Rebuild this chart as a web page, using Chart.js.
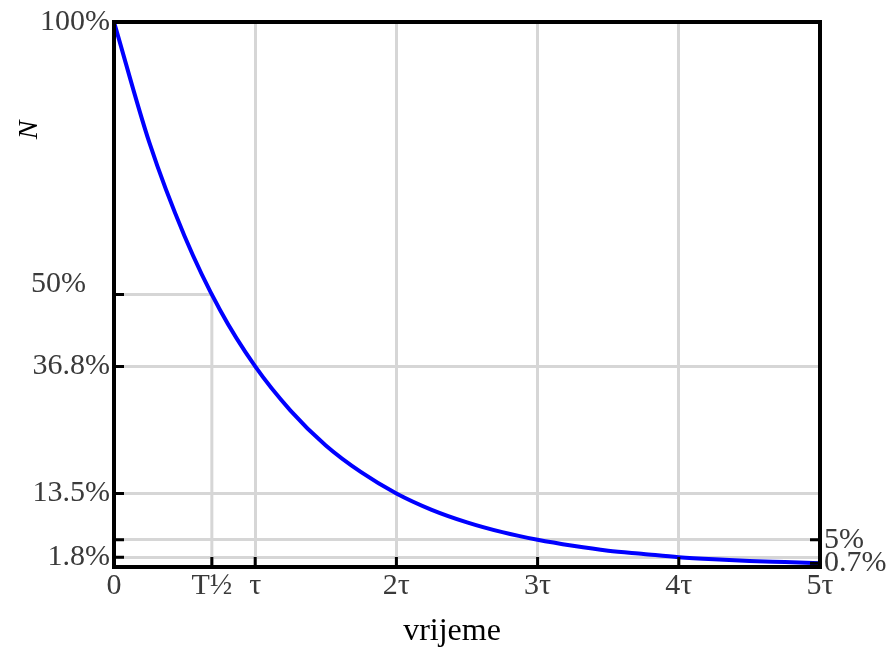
<!DOCTYPE html>
<html>
<head>
<meta charset="utf-8">
<script src="https://cdn.jsdelivr.net/npm/chart.js@4"></script>
<style>
  body { margin: 0; background: #fff; }
  #wrap { width: 895px; height: 647px; }
</style>
</head>
<body>
<div id="wrap"><canvas id="decayChart"></canvas></div>
<script>
// values, N in % at multiples of tau
const tValues = [0, 0.25, 0.5, 0.75, 1, 1.25, 1.5, 1.75, 2, 2.25, 2.5, 2.75, 3, 3.25, 3.5, 3.75, 4, 4.25, 4.5, 4.75, 5];
const nValues = [100, 77.9, 60.7, 47.2, 36.8, 28.7, 22.3, 17.4, 13.5, 10.5, 8.2, 6.4, 5.0, 3.9, 3.0, 2.4, 1.8, 1.4, 1.1, 0.9, 0.7];

const halfLife = 0.693;
const xTicks = [0, halfLife, 1, 2, 3, 4, 5];
const xTickLabels = ['0', 'T½', 'τ', '2τ', '3τ', '4τ', '5τ'];
const yTicks = [100, 50, 36.8, 13.5, 5, 1.8];
const yTickLabels = ['100%', '', '36.8%', '13.5%', '', '1.8%'];
const yRightTicks = [5, 0.7];
const yRightLabels = ['5%', '0.7%'];

const labelFont = { family: 'Liberation Serif', size: 30 };
const labelColor = '#3a3a3a';
const gridColor = '#d6d6d6';

/* ================= FRAME, TICKS, EXTRA TEXT ================= */
const framePlugin = {
    id: 'frame',
    afterDatasetsDraw(chart) {
        const { ctx, chartArea: a, scales: { x, y } } = chart;
        ctx.save();
        ctx.strokeStyle = '#000';
        ctx.lineWidth = 3;
        // inward ticks
        ctx.beginPath();
        [50, 36.8, 13.5, 5, 1.8].forEach(v => {
            const py = y.getPixelForValue(v);
            ctx.moveTo(a.left, py); ctx.lineTo(a.left + 10, py);
        });
        yRightTicks.forEach(v => {
            const py = y.getPixelForValue(v);
            ctx.moveTo(a.right, py); ctx.lineTo(a.right - 10, py);
        });
        [halfLife, 1, 2, 3, 4].forEach(v => {
            const px = x.getPixelForValue(v);
            ctx.moveTo(px, a.bottom); ctx.lineTo(px, a.bottom - 10);
        });
        ctx.stroke();
        ctx.lineWidth = 4;
        ctx.strokeRect(a.left, a.top, a.right - a.left, a.bottom - a.top);

        ctx.fillStyle = labelColor;
        ctx.font = '30px "Liberation Serif"';
        ctx.textAlign = 'right';
        ctx.textBaseline = 'middle';
        ctx.fillText('50%', 86, y.getPixelForValue(50) - 10);

        ctx.fillStyle = '#000';
        ctx.textAlign = 'center';
        ctx.font = '32px "Liberation Serif"';
        ctx.fillText('vrijeme', 452, 632);

        ctx.translate(30, 130);
        ctx.rotate(-Math.PI / 2);
        ctx.font = 'italic 28px "Liberation Serif"';
        ctx.fillText('N', 0, 0);
        ctx.restore();
    }
};

new Chart(document.getElementById('decayChart'), {
    type: 'line',
    data: {
        datasets: [{
            data: tValues.map((t, i) => ({ x: t, y: nValues[i] })),
            borderColor: '#0000ff',
            borderWidth: 4,
            pointRadius: 0,
            cubicInterpolationMode: 'monotone'
        }, {
            // half-life guide
            data: [{ x: 0, y: 50 }, { x: halfLife, y: 50 }, { x: halfLife, y: 0 }],
            borderColor: gridColor,
            borderWidth: 3,
            pointRadius: 0
        }]
    },
    options: {
        responsive: true,
        maintainAspectRatio: false,
        animation: false,
        layout: { padding: { top: 22 } },
        plugins: { legend: { display: false }, tooltip: { enabled: false } },
        scales: {
            x: {
                type: 'linear',
                min: 0,
                max: 5,
                afterBuildTicks: s => { s.ticks = xTicks.map(v => ({ value: v })); },
                afterFit: s => { s.height = 80; },
                ticks: {
                    autoSkip: false,
                    maxRotation: 0,
                    padding: 1,
                    font: labelFont,
                    color: labelColor,
                    callback: (v, i) => xTickLabels[i]
                },
                grid: {
                    drawTicks: false,
                    lineWidth: 3,
                    color: c => (c.tick && [1, 2, 3, 4].includes(c.tick.value)) ? gridColor : 'transparent'
                },
                border: { display: false }
            },
            y: {
                type: 'linear',
                min: 0,
                max: 100,
                afterBuildTicks: s => { s.ticks = yTicks.map(v => ({ value: v })); },
                afterFit: s => { s.width = 114; },
                ticks: {
                    autoSkip: false,
                    padding: 4,
                    font: labelFont,
                    color: labelColor,
                    callback: (v, i) => yTickLabels[i]
                },
                grid: {
                    drawTicks: false,
                    lineWidth: 3,
                    color: c => (c.tick && [36.8, 13.5, 5, 1.8].includes(c.tick.value)) ? gridColor : 'transparent'
                },
                border: { display: false }
            },
            y2: {
                type: 'linear',
                position: 'right',
                min: 0,
                max: 100,
                afterBuildTicks: s => { s.ticks = yRightTicks.map(v => ({ value: v })); },
                afterFit: s => { s.width = 75; },
                ticks: {
                    autoSkip: false,
                    padding: 4,
                    font: labelFont,
                    color: labelColor,
                    callback: (v, i) => yRightLabels[i]
                },
                grid: { display: false, drawTicks: false },
                border: { display: false }
            }
        }
    },
    plugins: [framePlugin]
});
</script>
</body>
</html>
